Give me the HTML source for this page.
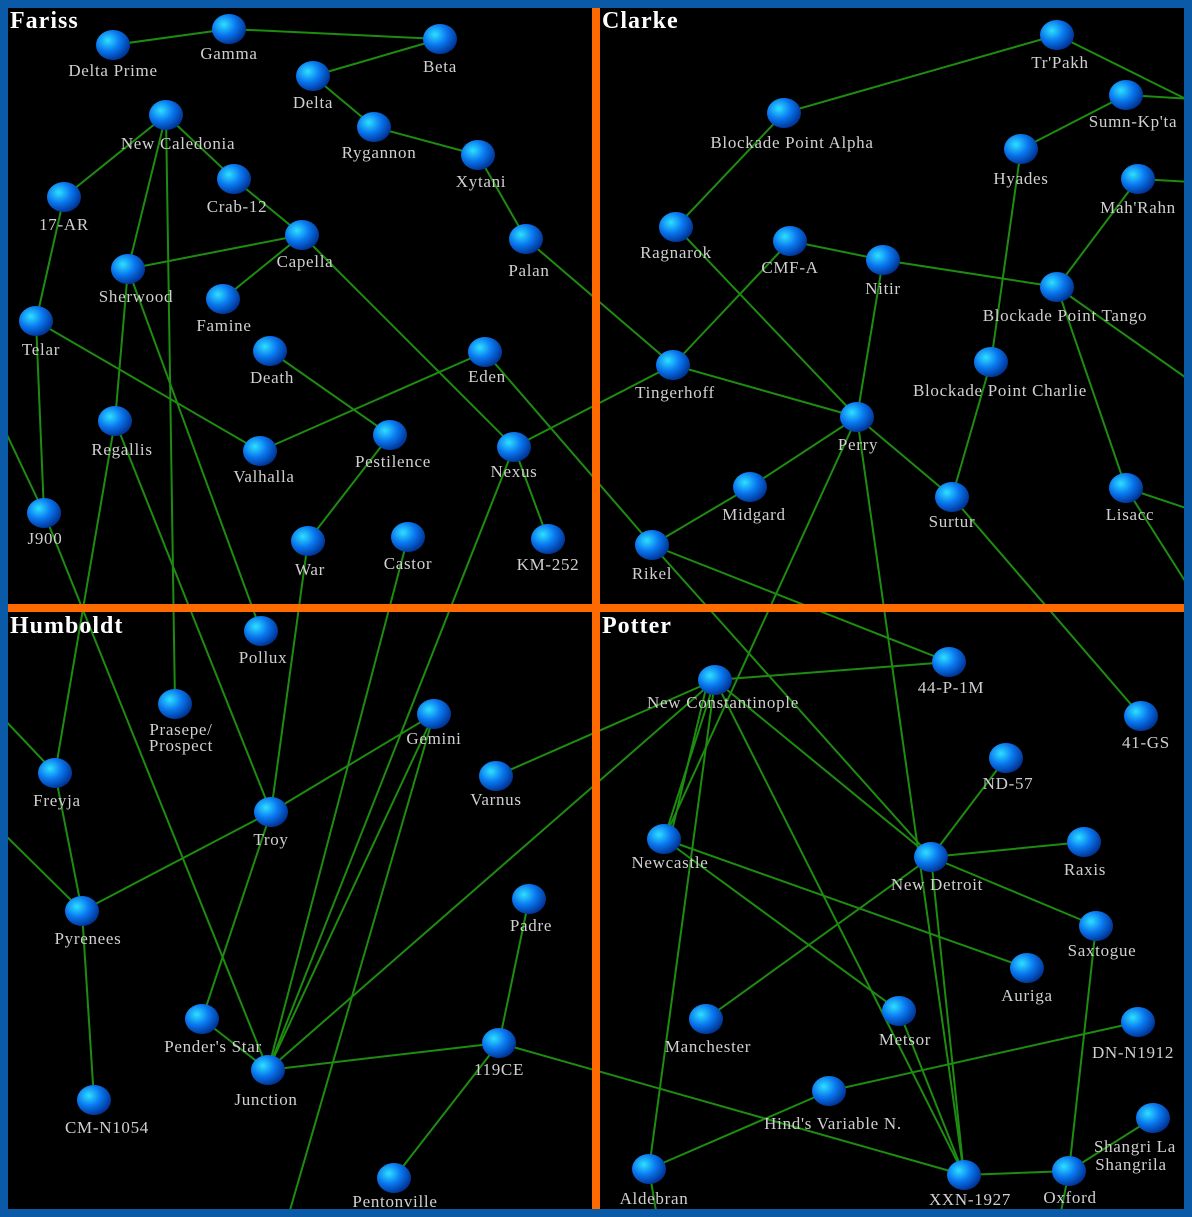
<!DOCTYPE html>
<html><head><meta charset="utf-8"><style>
html,body{margin:0;padding:0;background:#000}
svg{display:block}
text{font-family:"Liberation Serif",serif;font-size:17px;letter-spacing:0.7px;fill:#d0d0d0;text-anchor:middle}
.t{font-size:24px;letter-spacing:1px;font-weight:bold;fill:#fff;text-anchor:start}
</style></head><body>
<svg width="1192" height="1217" viewBox="0 0 1192 1217" xmlns="http://www.w3.org/2000/svg">
<defs><radialGradient id="g" cx="0.35" cy="0.35" r="0.7"><stop offset="0" stop-color="#2ee0ff"/><stop offset="0.5" stop-color="#0a78f0"/><stop offset="1" stop-color="#003090"/></radialGradient></defs>
<rect width="1192" height="1217" fill="#000"/>
<g stroke="#1e8c10" stroke-width="2">
<line x1="113" y1="45" x2="229" y2="29"/><line x1="229" y1="29" x2="440" y2="39"/><line x1="440" y1="39" x2="313" y2="76"/>
<line x1="313" y1="76" x2="374" y2="127"/><line x1="374" y1="127" x2="478" y2="155"/><line x1="478" y1="155" x2="526" y2="239"/>
<line x1="526" y1="239" x2="673" y2="365"/><line x1="166" y1="115" x2="64" y2="197"/><line x1="166" y1="115" x2="234" y2="179"/>
<line x1="166" y1="115" x2="128" y2="269"/><line x1="166" y1="115" x2="175" y2="704"/><line x1="234" y1="179" x2="302" y2="235"/>
<line x1="302" y1="235" x2="128" y2="269"/><line x1="302" y1="235" x2="223" y2="299"/><line x1="302" y1="235" x2="514" y2="447"/>
<line x1="485" y1="352" x2="652" y2="545"/><line x1="485" y1="352" x2="260" y2="451"/><line x1="514" y1="447" x2="673" y2="365"/>
<line x1="514" y1="447" x2="548" y2="539"/><line x1="514" y1="447" x2="268" y2="1070"/><line x1="128" y1="269" x2="115" y2="421"/>
<line x1="128" y1="269" x2="261" y2="631"/><line x1="64" y1="197" x2="36" y2="321"/><line x1="36" y1="321" x2="44" y2="513"/>
<line x1="36" y1="321" x2="260" y2="451"/><line x1="0" y1="420" x2="44" y2="513"/><line x1="44" y1="513" x2="268" y2="1070"/>
<line x1="270" y1="351" x2="390" y2="435"/><line x1="390" y1="435" x2="308" y2="541"/><line x1="308" y1="541" x2="271" y2="812"/>
<line x1="408" y1="537" x2="268" y2="1070"/><line x1="115" y1="421" x2="271" y2="812"/><line x1="115" y1="421" x2="55" y2="773"/>
<line x1="55" y1="773" x2="82" y2="911"/><line x1="0" y1="715" x2="55" y2="773"/><line x1="0" y1="830" x2="82" y2="911"/>
<line x1="82" y1="911" x2="271" y2="812"/><line x1="271" y1="812" x2="434" y2="714"/><line x1="82" y1="911" x2="94" y2="1100"/>
<line x1="271" y1="812" x2="202" y2="1019"/><line x1="202" y1="1019" x2="268" y2="1070"/><line x1="268" y1="1070" x2="434" y2="714"/>
<line x1="434" y1="714" x2="288" y2="1217"/><line x1="268" y1="1070" x2="499" y2="1043"/><line x1="268" y1="1070" x2="715" y2="680"/>
<line x1="529" y1="899" x2="499" y2="1043"/><line x1="499" y1="1043" x2="394" y2="1178"/><line x1="499" y1="1043" x2="964" y2="1175"/>
<line x1="496" y1="776" x2="715" y2="680"/>
<line x1="1057" y1="35" x2="784" y2="113"/><line x1="1057" y1="35" x2="1192" y2="102"/><line x1="1126" y1="95" x2="1021" y2="149"/>
<line x1="1126" y1="95" x2="1192" y2="99"/><line x1="1138" y1="179" x2="1192" y2="182"/><line x1="1138" y1="179" x2="1057" y2="287"/>
<line x1="784" y1="113" x2="676" y2="227"/><line x1="676" y1="227" x2="857" y2="417"/><line x1="790" y1="241" x2="673" y2="365"/>
<line x1="790" y1="241" x2="883" y2="260"/><line x1="883" y1="260" x2="1057" y2="287"/><line x1="883" y1="260" x2="857" y2="417"/>
<line x1="1021" y1="149" x2="991" y2="362"/><line x1="991" y1="362" x2="952" y2="497"/><line x1="1057" y1="287" x2="1192" y2="382"/>
<line x1="1057" y1="287" x2="1126" y2="488"/><line x1="1126" y1="488" x2="1192" y2="510"/><line x1="1126" y1="488" x2="1192" y2="592"/>
<line x1="673" y1="365" x2="857" y2="417"/><line x1="857" y1="417" x2="750" y2="487"/><line x1="750" y1="487" x2="652" y2="545"/>
<line x1="857" y1="417" x2="952" y2="497"/><line x1="857" y1="417" x2="664" y2="839"/><line x1="857" y1="417" x2="964" y2="1175"/>
<line x1="952" y1="497" x2="1141" y2="716"/><line x1="652" y1="545" x2="949" y2="662"/><line x1="652" y1="545" x2="931" y2="857"/>
<line x1="715" y1="680" x2="949" y2="662"/><line x1="715" y1="680" x2="664" y2="839"/><line x1="708" y1="680" x2="670" y2="839"/><line x1="715" y1="680" x2="649" y2="1169"/>
<line x1="715" y1="680" x2="931" y2="857"/><line x1="715" y1="680" x2="964" y2="1175"/><line x1="1006" y1="758" x2="931" y2="857"/>
<line x1="931" y1="857" x2="1084" y2="842"/><line x1="931" y1="857" x2="1096" y2="926"/><line x1="931" y1="857" x2="964" y2="1175"/>
<line x1="664" y1="839" x2="1027" y2="968"/><line x1="664" y1="839" x2="899" y2="1011"/><line x1="899" y1="1011" x2="964" y2="1175"/>
<line x1="706" y1="1019" x2="931" y2="857"/><line x1="1096" y1="926" x2="1069" y2="1171"/><line x1="1069" y1="1171" x2="964" y2="1175"/>
<line x1="1069" y1="1171" x2="1060" y2="1217"/><line x1="1153" y1="1118" x2="1069" y2="1171"/><line x1="1138" y1="1022" x2="829" y2="1091"/>
<line x1="829" y1="1091" x2="649" y2="1169"/><line x1="649" y1="1169" x2="657" y2="1217"/>
</g>
<rect x="592" y="0" width="8" height="1217" fill="#ff6a00"/>
<rect x="0" y="604" width="1192" height="8" fill="#ff6a00"/>
<g fill="url(#g)">
<ellipse cx="113" cy="45" rx="17" ry="15"/><ellipse cx="229" cy="29" rx="17" ry="15"/><ellipse cx="440" cy="39" rx="17" ry="15"/>
<ellipse cx="313" cy="76" rx="17" ry="15"/><ellipse cx="374" cy="127" rx="17" ry="15"/><ellipse cx="478" cy="155" rx="17" ry="15"/>
<ellipse cx="166" cy="115" rx="17" ry="15"/><ellipse cx="234" cy="179" rx="17" ry="15"/><ellipse cx="64" cy="197" rx="17" ry="15"/>
<ellipse cx="302" cy="235" rx="17" ry="15"/><ellipse cx="128" cy="269" rx="17" ry="15"/><ellipse cx="223" cy="299" rx="17" ry="15"/>
<ellipse cx="526" cy="239" rx="17" ry="15"/><ellipse cx="36" cy="321" rx="17" ry="15"/><ellipse cx="270" cy="351" rx="17" ry="15"/>
<ellipse cx="485" cy="352" rx="17" ry="15"/><ellipse cx="115" cy="421" rx="17" ry="15"/><ellipse cx="260" cy="451" rx="17" ry="15"/>
<ellipse cx="390" cy="435" rx="17" ry="15"/><ellipse cx="514" cy="447" rx="17" ry="15"/><ellipse cx="44" cy="513" rx="17" ry="15"/>
<ellipse cx="308" cy="541" rx="17" ry="15"/><ellipse cx="408" cy="537" rx="17" ry="15"/><ellipse cx="548" cy="539" rx="17" ry="15"/>
<ellipse cx="1057" cy="35" rx="17" ry="15"/><ellipse cx="1126" cy="95" rx="17" ry="15"/><ellipse cx="784" cy="113" rx="17" ry="15"/>
<ellipse cx="1021" cy="149" rx="17" ry="15"/><ellipse cx="1138" cy="179" rx="17" ry="15"/><ellipse cx="676" cy="227" rx="17" ry="15"/>
<ellipse cx="790" cy="241" rx="17" ry="15"/><ellipse cx="883" cy="260" rx="17" ry="15"/><ellipse cx="1057" cy="287" rx="17" ry="15"/>
<ellipse cx="991" cy="362" rx="17" ry="15"/><ellipse cx="673" cy="365" rx="17" ry="15"/><ellipse cx="857" cy="417" rx="17" ry="15"/>
<ellipse cx="750" cy="487" rx="17" ry="15"/><ellipse cx="952" cy="497" rx="17" ry="15"/><ellipse cx="1126" cy="488" rx="17" ry="15"/>
<ellipse cx="652" cy="545" rx="17" ry="15"/>
<ellipse cx="261" cy="631" rx="17" ry="15"/><ellipse cx="175" cy="704" rx="17" ry="15"/><ellipse cx="434" cy="714" rx="17" ry="15"/>
<ellipse cx="496" cy="776" rx="17" ry="15"/><ellipse cx="55" cy="773" rx="17" ry="15"/><ellipse cx="271" cy="812" rx="17" ry="15"/>
<ellipse cx="82" cy="911" rx="17" ry="15"/><ellipse cx="529" cy="899" rx="17" ry="15"/><ellipse cx="202" cy="1019" rx="17" ry="15"/>
<ellipse cx="268" cy="1070" rx="17" ry="15"/><ellipse cx="499" cy="1043" rx="17" ry="15"/><ellipse cx="94" cy="1100" rx="17" ry="15"/>
<ellipse cx="394" cy="1178" rx="17" ry="15"/>
<ellipse cx="949" cy="662" rx="17" ry="15"/><ellipse cx="715" cy="680" rx="17" ry="15"/><ellipse cx="1141" cy="716" rx="17" ry="15"/>
<ellipse cx="1006" cy="758" rx="17" ry="15"/><ellipse cx="664" cy="839" rx="17" ry="15"/><ellipse cx="1084" cy="842" rx="17" ry="15"/>
<ellipse cx="931" cy="857" rx="17" ry="15"/><ellipse cx="1096" cy="926" rx="17" ry="15"/><ellipse cx="1027" cy="968" rx="17" ry="15"/>
<ellipse cx="706" cy="1019" rx="17" ry="15"/><ellipse cx="899" cy="1011" rx="17" ry="15"/><ellipse cx="1138" cy="1022" rx="17" ry="15"/>
<ellipse cx="829" cy="1091" rx="17" ry="15"/><ellipse cx="1153" cy="1118" rx="17" ry="15"/><ellipse cx="649" cy="1169" rx="17" ry="15"/>
<ellipse cx="964" cy="1175" rx="17" ry="15"/><ellipse cx="1069" cy="1171" rx="17" ry="15"/>
</g>
<g>
<text x="113" y="76">Delta Prime</text><text x="229" y="59">Gamma</text><text x="440" y="72">Beta</text>
<text x="313" y="108">Delta</text><text x="379" y="158">Rygannon</text><text x="481" y="187">Xytani</text>
<text x="178" y="149">New Caledonia</text><text x="237" y="212">Crab-12</text><text x="64" y="230">17-AR</text>
<text x="305" y="267">Capella</text><text x="136" y="302">Sherwood</text><text x="224" y="331">Famine</text>
<text x="529" y="276">Palan</text><text x="41" y="355">Telar</text><text x="272" y="383">Death</text>
<text x="487" y="382">Eden</text><text x="122" y="455">Regallis</text><text x="264" y="482">Valhalla</text>
<text x="393" y="467">Pestilence</text><text x="514" y="477">Nexus</text><text x="45" y="544">J900</text>
<text x="310" y="575">War</text><text x="408" y="569">Castor</text><text x="548" y="570">KM-252</text>
<text x="1060" y="68">Tr'Pakh</text><text x="1133" y="127">Sumn-Kp'ta</text><text x="792" y="148">Blockade Point Alpha</text>
<text x="1021" y="184">Hyades</text><text x="1138" y="213">Mah'Rahn</text><text x="676" y="258">Ragnarok</text>
<text x="790" y="273">CMF-A</text><text x="883" y="294">Nitir</text><text x="1065" y="321">Blockade Point Tango</text>
<text x="1000" y="396">Blockade Point Charlie</text><text x="675" y="398">Tingerhoff</text><text x="858" y="450">Perry</text>
<text x="754" y="520">Midgard</text><text x="952" y="527">Surtur</text><text x="1130" y="520">Lisacc</text>
<text x="652" y="579">Rikel</text>
<text x="263" y="663">Pollux</text><text x="181" y="735">Prasepe/</text><text x="181" y="751">Prospect</text>
<text x="434" y="744">Gemini</text><text x="496" y="805">Varnus</text><text x="57" y="806">Freyja</text>
<text x="271" y="845">Troy</text><text x="88" y="944">Pyrenees</text><text x="531" y="931">Padre</text>
<text x="213" y="1052">Pender's Star</text><text x="266" y="1105">Junction</text><text x="499" y="1075">119CE</text>
<text x="107" y="1133">CM-N1054</text><text x="395" y="1207">Pentonville</text>
<text x="951" y="693">44-P-1M</text><text x="723" y="708">New Constantinople</text><text x="1146" y="748">41-GS</text>
<text x="1008" y="789">ND-57</text><text x="670" y="868">Newcastle</text><text x="1085" y="875">Raxis</text>
<text x="937" y="890">New Detroit</text><text x="1102" y="956">Saxtogue</text><text x="1027" y="1001">Auriga</text>
<text x="708" y="1052">Manchester</text><text x="905" y="1045">Metsor</text><text x="1133" y="1058">DN-N1912</text>
<text x="833" y="1129">Hind's Variable N.</text><text x="1135" y="1152">Shangri La</text><text x="1131" y="1170">Shangrila</text>
<text x="654" y="1204">Aldebran</text><text x="970" y="1205">XXN-1927</text><text x="1070" y="1203">Oxford</text>
</g>
<text class="t" x="10" y="28">Fariss</text><text class="t" x="602" y="28">Clarke</text>
<text class="t" x="10" y="633">Humboldt</text><text class="t" x="602" y="633">Potter</text>
<rect x="4" y="4" width="1184" height="1209" fill="none" stroke="#0a5aa8" stroke-width="8"/>
</svg>
</body></html>
